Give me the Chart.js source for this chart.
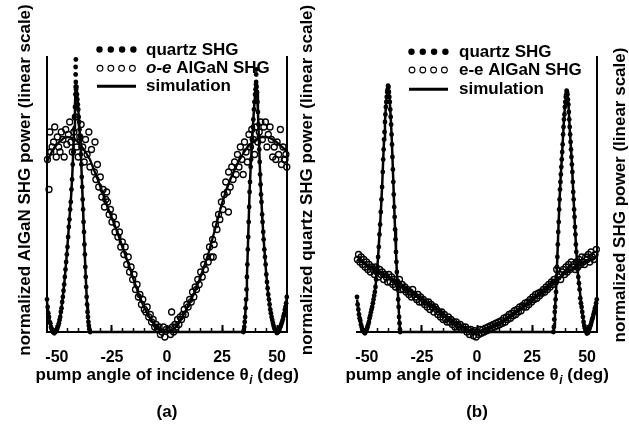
<!DOCTYPE html>
<html>
<head>
<meta charset="utf-8">
<script src="https://cdn.jsdelivr.net/npm/chart.js@4.4.1/dist/chart.umd.min.js"></script>
<style>
  html, body { margin: 0; padding: 0; background: #fff; }
  #wrap { position: relative; width: 629px; height: 426px; }
  canvas { position: absolute; left: 0; top: 0; }
</style>
</head>
<body>
<div id="wrap">
  <canvas id="chartA" width="629" height="426"></canvas>
  <canvas id="chartB" width="629" height="426"></canvas>
</div>
<script>
// axis values
const angleTicks = [-50, -25, 0, 25, 50];
const minorTicks = [-50, -45, -40, -35, -30, -25, -20, -15, -10, -5, 0, 5, 10, 15, 20, 25, 30, 35, 40, 45, 50];
const angleMin = -54.5, angleMax = 54.5;
const powerMin = 0, powerMax = 1.1;

// legend / axis texts
const legendA = [['', 'quartz SHG'], ['o-e', ' AlGaN SHG'], ['', 'simulation']];
const legendB = [['', 'quartz SHG'], ['', 'e-e AlGaN SHG'], ['', 'simulation']];
const yLabelA = 'normalized AlGaN SHG power (linear scale)';
const y2LabelA = 'normalized quartz SHG power (linear scale)';
const y2LabelB = 'normalized SHG power (linear scale)';

// (a) quartz: simulation and measured points  [angle, power]
const quartzA_fit = [
  [-54.5,.12],[-54,.085],[-53.5,.055],[-53,.032],[-52.5,.016],[-52,.006],[-51.5,.001],[-51,0],[-50.5,.002],[-50,.008],
  [-49.5,.02],[-49,.036],[-48.5,.06],[-48,.09],[-47.5,.125],[-47,.165],[-46.5,.21],[-46,.26],[-45.5,.31],[-45,.37],
  [-44.5,.43],[-44,.49],[-43.5,.55],[-43,.63],[-42.6,.72],[-42.2,.82],[-41.8,.91],[-41.4,1.0],[-41.1,.98],[-40.7,.94],
  [-40.3,.89],[-39.9,.84],[-39.5,.78],[-39.1,.71],[-38.7,.62],[-38.3,.53],[-37.9,.44],[-37.5,.35],[-37.1,.26],[-36.7,.18],
  [-36.3,.11],[-35.9,.06],[-35.5,.025],[-35.1,.005],[-34.8,0],
  [34.7,0],[35.1,.02],[35.5,.06],[35.9,.13],[36.3,.22],[36.7,.33],[37.1,.44],[37.5,.56],[38,.66],[38.5,.74],
  [39,.82],[39.5,.89],[40,.95],[40.5,1.0],[40.9,.96],[41.3,.88],[41.7,.78],[42.1,.68],[42.5,.59],[42.9,.52],
  [43.4,.44],[43.9,.37],[44.5,.3],[45,.24],[45.5,.19],[46,.15],[46.5,.115],[47,.085],[47.5,.06],[48,.04],
  [48.5,.022],[49,.01],[49.5,.003],[50,0],[50.5,.003],[51,.01],[51.5,.02],[52,.033],[52.5,.048],[53,.066],
  [53.5,.088],[54,.11],[54.5,.14]
];
const quartzA_data = [
  [-54.5,.13],[-54.2,.10],[-53.9,.075],[-53.6,.06],[-53.3,.04],[-53,.035],[-52.7,.02],[-52.4,.012],[-52.1,.008],[-51.8,0],
  [-51.5,.004],[-51.2,-.005],[-50.9,.003],[-50.6,0],[-50.3,.008],[-50,.01],[-49.7,.018],[-49.4,.025],[-49.1,.035],[-48.8,.048],
  [-48.5,.06],[-48.2,.08],[-47.9,.095],[-47.6,.12],[-47.3,.14],[-47,.165],[-46.7,.19],[-46.4,.22],[-46.1,.25],[-45.8,.28],
  [-45.5,.31],[-45.2,.34],[-44.9,.38],[-44.6,.42],[-44.3,.45],[-44,.49],[-43.7,.52],[-43.4,.57],[-43.1,.61],[-42.8,.67],
  [-42.6,.72],[-42.4,.77],[-42.2,.81],[-42,.86],[-41.8,.9],[-41.6,.95],[-41.5,.98],[-41.4,1.0],[-41.5,1.03],[-41.5,1.06],
  [-41.4,1.09],[-41.3,.97],[-41.1,.98],[-40.9,.95],[-40.7,.93],[-40.5,.91],[-40.3,.89],[-40.1,.86],[-39.9,.84],[-39.7,.81],
  [-39.5,.78],[-39.3,.74],[-39.1,.71],[-38.9,.67],[-38.7,.62],[-38.5,.58],[-38.3,.53],[-38.1,.49],[-37.9,.44],[-37.7,.40],
  [-37.5,.35],[-37.3,.31],[-37.1,.26],[-36.9,.22],[-36.7,.18],[-36.5,.14],[-36.3,.11],[-36.1,.08],[-35.9,.06],[-35.7,.04],
  [-35.5,.025],[-35.3,.012],[-35.1,.005],[-34.9,0],
  [34.7,0],[34.9,.008],[35.1,.02],[35.3,.04],[35.5,.06],[35.7,.095],[35.9,.13],[36.1,.17],[36.3,.22],[36.5,.27],
  [36.7,.33],[36.9,.38],[37.1,.44],[37.3,.50],[37.5,.56],[37.7,.60],[38,.66],[38.2,.69],[38.5,.74],[38.7,.77],
  [39,.82],[39.2,.85],[39.5,.89],[39.7,.92],[40,.95],[40.2,.97],[40.4,.99],[40.5,1.0],[40.5,1.03],[40.5,1.05],
  [40.7,.98],[40.9,.96],[41.1,.92],[41.3,.88],[41.5,.83],[41.7,.78],[41.9,.73],[42.1,.68],[42.3,.63],[42.5,.59],
  [42.7,.55],[42.9,.52],[43.2,.47],[43.4,.44],[43.7,.40],[43.9,.37],[44.2,.33],[44.5,.30],[44.8,.27],[45.1,.23],
  [45.4,.20],[45.7,.175],[46,.15],[46.3,.13],[46.6,.11],[46.9,.09],[47.2,.075],[47.5,.06],[47.8,.048],[48.1,.036],
  [48.4,.025],[48.7,.016],[49,.01],[49.3,.005],[49.6,.002],[49.9,-.004],[50.2,.002],[50.5,0],[50.8,.006],[51.1,.012],
  [51.4,.018],[51.7,.025],[52,.033],[52.3,.04],[52.6,.05],[52.9,.062],[53.2,.072],[53.5,.088],[53.8,.1],[54.1,.115],
  [54.4,.14]
];

// (a) o-e AlGaN: simulation and measured points
const oeA_fit = [
  [-54.5,.68],[-53,.71],[-51,.74],[-49,.76],[-47,.775],[-45,.78],[-43,.775],[-41,.765],[-39,.745],[-37,.72],
  [-35,.69],[-33,.645],[-31,.6],[-29,.55],[-27,.5],[-25,.455],[-23,.41],[-21,.36],[-19,.31],[-17,.26],
  [-15,.205],[-13,.155],[-11,.11],[-9,.075],[-7,.045],[-5,.022],[-3,.007],[-1.5,.001],[0,0],[1.5,.002],
  [3,.01],[5,.03],[7,.06],[9,.095],[11,.13],[13,.17],[15,.215],[17,.265],[19,.32],[21,.385],
  [23,.45],[25,.515],[27,.57],[29,.615],[31,.655],[33,.69],[35,.72],[37,.745],[39,.76],[41,.77],
  [43,.78],[45,.78],[47,.775],[49,.765],[51,.75],[53,.735],[54.5,.72]
];
const oeA_data = [
  [-54.3,.69],[-53.6,.57],[-53.2,.80],[-52.8,.72],[-52.2,.74],[-51.5,.76],[-51,.82],[-50.3,.70],[-49.8,.78],[-49.2,.74],
  [-48.6,.72],[-48,.80],[-47.3,.77],[-46.7,.70],[-46,.81],[-45.5,.75],[-44.8,.79],[-44.2,.84],[-43.6,.76],[-43,.72],
  [-42.3,.80],[-41.6,.86],[-41,.74],[-40.3,.70],[-39.6,.78],[-39,.83],[-38.3,.74],[-37.6,.68],[-37,.77],[-36.3,.71],
  [-35.5,.80],[-35,.66],[-34.3,.73],[-32.7,.76],[-33,.64],[-32.3,.61],[-31.6,.67],[-31,.58],[-30.3,.62],[-29.6,.54],
  [-29,.57],[-28.4,.5],[-27.8,.53],[-27.4,.56],[-27,.52],[-26.3,.47],[-25.7,.49],[-25,.44],[-24.3,.46],[-23.6,.40],
  [-23,.43],[-22.3,.38],[-21.6,.40],[-21,.34],[-20.3,.36],[-19.6,.31],[-19,.34],[-18.3,.27],[-17.6,.30],[-17,.24],
  [-16.3,.26],[-15.6,.21],[-15,.23],[-14.3,.17],[-13.6,.19],[-13,.14],[-12.3,.15],[-11.6,.11],[-11,.13],[-10.3,.09],
  [-9.6,.08],[-9,.10],[-8.3,.06],[-7.6,.07],[-7,.04],[-6.3,.05],[-5.6,.02],[-5,.03],[-4.3,.01],[-3.6,.02],
  [-3,-.01],[-2.3,0],[-1.6,.02],[-1,-.02],[-0.3,.01],[0.4,-.03],[1,.01],[1.6,-.01],[2.1,.08],[2.5,.02],
  [3,0],[3.6,.03],[4.2,.02],[4.8,.05],[5.4,.03],[6,.06],[6.6,.05],[7.2,.07],[7.8,.09],[8.4,.07],
  [9,.11],[9.6,.10],[10.3,.13],[11,.12],[11.6,.16],[12.2,.14],[12.8,.18],[13.4,.17],[14,.21],[14.6,.19],
  [15.3,.24],[16,.22],[16.7,.27],[17.4,.25],[18,.30],[18.7,.28],[19.3,.34],[20,.30],[21,.30],[20.7,.37],
  [21.4,.35],[22,.43],[22.7,.41],[23.4,.47],[24,.45],[24.7,.52],[25.4,.49],[26,.55],[26.7,.60],[27.9,.48],
  [27.4,.56],[28,.64],[28.7,.58],[29.4,.66],[30,.61],[30.7,.68],[31.4,.63],[32,.71],[32.7,.66],[33.3,.74],
  [34,.69],[34.6,.63],[35.2,.76],[35.9,.72],[36.5,.68],[37.2,.79],[37.8,.74],[38.5,.81],[39.2,.77],[39.8,.71],
  [40.5,.82],[41.2,.76],[41.9,.80],[42.6,.84],[43.3,.77],[44,.82],[44.7,.84],[45.4,.74],[46,.79],[46.8,.82],
  [47.4,.77],[48,.70],[48.7,.74],[49.4,.69],[50,.76],[50.7,.71],[51.5,.81],[52,.67],[52.7,.74],[53.3,.69],
  [53.6,.69],[54,.71],[54.4,.66]
];

// (b) quartz: simulation and measured points
const quartzB_fit = [
  [-54.5,.13],[-54,.1],[-53.5,.07],[-53,.045],[-52.5,.025],[-52,.012],[-51.5,.004],[-51,0],[-50.5,.003],[-50,.012],
  [-49.5,.027],[-49,.045],[-48.5,.065],[-48,.085],[-47.5,.105],[-47,.13],[-46.5,.155],[-46,.19],[-45.5,.24],[-45,.29],
  [-44.5,.36],[-44,.43],[-43.5,.51],[-43,.6],[-42.6,.69],[-42.2,.77],[-41.8,.84],[-41.4,.9],[-41,.94],[-40.6,.97],
  [-40.3,.976],[-40,.96],[-39.6,.92],[-39.2,.86],[-38.8,.79],[-38.4,.7],[-38,.6],[-37.6,.5],[-37.2,.41],[-36.8,.32],
  [-36.4,.24],[-36,.17],[-35.6,.1],[-35.3,.045],[-35,.01],[-34.8,0],
  [34.7,0],[35,.03],[35.4,.09],[35.9,.16],[36.4,.28],[37,.42],[37.5,.53],[38,.62],[38.5,.69],[39,.77],
  [39.5,.85],[40,.91],[40.5,.95],[40.8,.96],[41.2,.94],[41.6,.9],[42,.83],[42.5,.76],[43,.69],[43.5,.6],
  [44,.51],[44.5,.42],[45,.34],[45.5,.27],[46,.22],[46.5,.18],[47,.14],[47.5,.1],[48,.065],[48.5,.035],
  [49,.015],[49.5,.004],[50,0],[50.5,.004],[51,.012],[51.5,.025],[52,.04],[52.5,.056],[53,.074],[53.5,.093],
  [54,.112],[54.5,.13]
];
const quartzB_data = [
  [-54.5,.14],[-54.2,.11],[-53.9,.09],[-53.6,.07],[-53.3,.055],[-53,.045],[-52.7,.03],[-52.4,.02],[-52.1,.01],[-51.8,.006],
  [-51.5,0],[-51.2,.004],[-50.9,-.005],[-50.6,.002],[-50.3,.008],[-50,.012],[-49.7,.02],[-49.4,.03],[-49.1,.04],[-48.8,.055],
  [-48.5,.065],[-48.2,.078],[-47.9,.09],[-47.6,.1],[-47.3,.115],[-47,.13],[-46.7,.145],[-46.4,.16],[-46.1,.18],[-45.8,.21],
  [-45.5,.24],[-45.2,.26],[-44.9,.3],[-44.6,.34],[-44.3,.39],[-44,.43],[-43.7,.48],[-43.4,.53],[-43.1,.58],[-42.8,.64],
  [-42.6,.69],[-42.4,.73],[-42.2,.77],[-42,.8],[-41.8,.84],[-41.6,.87],[-41.4,.9],[-41.2,.92],[-41,.94],[-40.8,.96],
  [-40.6,.97],[-40.4,.985],[-40.2,.98],[-40,.96],[-39.8,.94],[-39.6,.92],[-39.4,.89],[-39.2,.86],[-39,.83],[-38.8,.79],
  [-38.6,.75],[-38.4,.7],[-38.2,.65],[-38,.6],[-37.8,.55],[-37.6,.5],[-37.4,.46],[-37.2,.41],[-37,.37],[-36.8,.32],
  [-36.6,.28],[-36.4,.24],[-36.2,.2],[-36,.17],[-35.8,.13],[-35.6,.1],[-35.4,.06],[-35.2,.035],[-35,.01],[-34.9,0],
  [34.7,0],[34.9,.02],[35.1,.05],[35.3,.08],[35.5,.1],[35.7,.13],[35.9,.16],[36.1,.2],[36.3,.26],[36.5,.3],
  [36.7,.35],[36.9,.4],[37.1,.44],[37.3,.49],[37.5,.53],[37.7,.57],[37.9,.6],[38.1,.63],[38.3,.66],[38.5,.69],
  [38.7,.72],[38.9,.75],[39.1,.79],[39.3,.82],[39.5,.85],[39.7,.87],[39.9,.9],[40.1,.92],[40.3,.94],[40.5,.95],
  [40.7,.965],[40.9,.96],[41.1,.95],[41.3,.93],[41.5,.91],[41.7,.88],[41.9,.85],[42.1,.82],[42.3,.79],[42.5,.76],
  [42.7,.73],[42.9,.7],[43.1,.67],[43.3,.64],[43.5,.6],[43.7,.56],[43.9,.53],[44.1,.49],[44.3,.46],[44.5,.42],
  [44.7,.39],[44.9,.35],[45.1,.32],[45.4,.28],[45.7,.25],[46,.22],[46.3,.195],[46.6,.17],[46.9,.135],[47.2,.115],
  [47.5,.1],[47.8,.08],[48.1,.06],[48.4,.04],[48.7,.025],[49,.015],[49.3,.008],[49.6,.002],[49.9,-.006],[50.2,.003],
  [50.5,-.003],[50.8,.008],[51.1,.014],[51.4,.022],[51.7,.03],[52,.04],[52.3,.05],[52.6,.058],[52.9,.07],[53.2,.08],
  [53.5,.093],[53.8,.1],[54.1,.115],[54.4,.13]
];

// (b) e-e AlGaN: simulation and measured points
const eeB_fit = [
  [-54.5,.29],[-50,.27],[-45,.245],[-40,.22],[-35,.195],[-30,.165],[-25,.135],[-20,.105],[-15,.072],[-10,.04],
  [-5,.014],[0,0],[5,.01],[10,.03],[15,.06],[20,.095],[25,.13],[30,.165],[35,.2],[40,.235],
  [45,.26],[50,.283],[54.5,.3]
];
const eeB_data = [
  [-54.3,.29],[-53.8,.31],[-53.2,.28],[-52.6,.30],[-52,.27],[-51.4,.29],[-50.8,.26],[-50.2,.28],[-49.6,.25],[-49,.27],
  [-48.4,.24],[-47.8,.26],[-47.2,.25],[-46.6,.23],[-46,.26],[-45.4,.24],[-44.8,.22],[-44.2,.25],[-43.6,.23],[-43,.24],
  [-42.4,.21],[-41.8,.23],[-41.2,.22],[-40.6,.20],[-40,.23],[-39.4,.20],[-38.8,.22],[-38.2,.19],[-37.6,.21],[-37,.18],
  [-36.4,.20],[-35.8,.19],[-35.2,.21],[-34.6,.17],[-34,.19],[-33.4,.17],[-32.8,.18],[-32.2,.16],[-31.6,.17],[-31,.15],
  [-30.4,.16],[-29.8,.14],[-29.2,.17],[-28.6,.15],[-28,.14],[-27.4,.13],[-26.8,.15],[-26.2,.12],[-25.6,.14],[-25,.12],
  [-24.4,.13],[-23.8,.11],[-23.2,.12],[-22.6,.10],[-22,.12],[-21.4,.09],[-20.8,.11],[-20.2,.10],[-19.6,.08],[-19,.10],
  [-18.4,.09],[-17.8,.07],[-17.2,.08],[-16.6,.06],[-16,.08],[-15.4,.05],[-14.8,.07],[-14.2,.05],[-13.6,.04],[-13,.06],
  [-12.4,.04],[-11.8,.05],[-11.2,.03],[-10.6,.04],[-10,.02],[-9.4,.04],[-8.8,.03],[-8.2,.02],[-7.6,.03],[-7,.01],
  [-6.4,.02],[-5.8,.01],[-5.2,.02],[-4.6,0],[-4,.01],[-3.4,-.01],[-2.8,.01],[-2.2,0],[-1.6,-.015],[-1,.005],
  [-0.4,-.02],[0.2,0],[0.8,-.01],[1.4,.01],[2,-.005],[2.6,.01],[3.2,0],[3.8,.015],[4.4,.005],[5,.02],
  [5.6,.01],[6.2,.025],[6.8,.015],[7.4,.03],[8,.02],[8.6,.035],[9.2,.025],[9.8,.04],[10.4,.03],[11,.045],
  [11.6,.035],[12.2,.055],[12.8,.04],[13.4,.06],[14,.05],[14.6,.07],[15.2,.055],[15.8,.075],[16.4,.065],[17,.085],
  [17.6,.07],[18.2,.09],[18.8,.08],[19.4,.10],[20,.085],[20.6,.105],[21.2,.10],[21.8,.115],[22.4,.10],[23,.12],
  [23.6,.11],[24.2,.13],[24.8,.12],[25.4,.14],[26,.13],[26.6,.15],[27.2,.135],[27.8,.155],[28.4,.145],[29,.16],
  [29.6,.155],[30.2,.17],[30.8,.16],[31.4,.18],[32,.17],[32.6,.19],[33.2,.18],[33.8,.20],[34.4,.19],[35,.21],
  [35.6,.20],[36.2,.25],[36.8,.22],[37.4,.23],[38,.21],[38.6,.24],[39.2,.25],[39.8,.23],[40.4,.26],[41,.24],
  [41.6,.27],[42.2,.25],[42.8,.28],[43.4,.26],[44,.27],[44.6,.25],[45.2,.28],[45.8,.26],[46.4,.29],[47,.27],
  [47.6,.30],[48.2,.28],[48.8,.27],[49.4,.30],[50,.29],[50.6,.31],[51.2,.28],[51.8,.32],[52.4,.30],[53,.29],
  [53.6,.31],[54.2,.33]
];

const FAMILY = '"Liberation Sans", Arial, Helvetica, sans-serif';

function toPoints(arr) {
  return arr.map(p => ({ x: p[0], y: p[1] }));
}

// draws rotated axis labels, x title with subscript, panel tag and the legend
const panelText = {
  id: 'panelText',
  afterDraw(chart, args, o) {
    const ctx = chart.ctx;
    const area = chart.chartArea;
    const cx = (area.left + area.right) / 2;
    ctx.save();
    ctx.fillStyle = '#000';
    ctx.strokeStyle = '#000';

    // x axis title: pump angle of incidence θi (deg)
    const t1 = 'pump angle of incidence \u03b8', sub = 'i', t2 = ' (deg)';
    ctx.font = 'bold 17px ' + FAMILY;
    const w1 = ctx.measureText(t1).width, w3 = ctx.measureText(t2).width;
    ctx.font = 'italic bold 12px ' + FAMILY;
    const ws = ctx.measureText(sub).width;
    let x = cx - (w1 + ws + w3) / 2;
    ctx.textAlign = 'left';
    ctx.textBaseline = 'alphabetic';
    ctx.font = 'bold 17px ' + FAMILY;
    ctx.fillText(t1, x, o.titleY);
    ctx.font = 'italic bold 12px ' + FAMILY;
    ctx.fillText(sub, x + w1 + 0.5, o.titleY + 4);
    ctx.font = 'bold 17px ' + FAMILY;
    ctx.fillText(t2, x + w1 + ws + 0.5, o.titleY);

    // panel tag
    ctx.textAlign = 'center';
    ctx.textBaseline = 'middle';
    ctx.fillText(o.tag, cx, o.tagY);

    // rotated labels, reading upwards
    o.yLabels.forEach(l => {
      ctx.save();
      ctx.translate(l.x, l.y);
      ctx.rotate(-Math.PI / 2);
      ctx.font = 'bold 17px ' + FAMILY;
      ctx.textAlign = 'center';
      ctx.textBaseline = 'middle';
      ctx.fillText(l.text, 0, 0);
      ctx.restore();
    });

    // legend
    const lg = o.legend;
    const rows = lg.rows;
    for (let i = 0; i < 4; i++) {
      ctx.beginPath();
      ctx.arc(lg.x + 2.5 + i * 11.3, rows[0], 3.2, 0, Math.PI * 2);
      ctx.fill();
    }
    ctx.lineWidth = 1.1;
    for (let i = 0; i < 4; i++) {
      ctx.beginPath();
      ctx.arc(lg.x + 3 + i * 10.8, rows[1], 2.9, 0, Math.PI * 2);
      ctx.stroke();
    }
    ctx.lineWidth = 3;
    ctx.beginPath();
    ctx.moveTo(lg.x, rows[2]);
    ctx.lineTo(lg.x + 39, rows[2]);
    ctx.stroke();
    ctx.textAlign = 'left';
    ctx.textBaseline = 'middle';
    lg.names.forEach((n, i) => {
      let tx = lg.textX;
      if (n[0]) {
        ctx.font = 'italic bold 17px ' + FAMILY;
        ctx.fillText(n[0], tx, rows[i] + 0.5);
        tx += ctx.measureText(n[0]).width;
      }
      ctx.font = 'bold 17px ' + FAMILY;
      ctx.fillText(n[1], tx, rows[i] + 0.5);
    });
    ctx.restore();
  }
};

function makePanel(canvasId, p) {
  const datasets = [
    { data: toPoints(p.quartzFit), showLine: true, borderColor: '#000', borderWidth: 2.5, pointRadius: 0, clip: false },
    { data: toPoints(p.quartzData), pointRadius: 2.4, pointBackgroundColor: '#000', pointBorderWidth: 0, clip: false },
    { data: toPoints(p.algaFit), showLine: true, borderColor: '#000', borderWidth: 2.3, pointRadius: 0, clip: false },
    { data: toPoints(p.algaData), pointRadius: 3, pointBackgroundColor: 'rgba(0,0,0,0)', pointBorderColor: '#000', pointBorderWidth: 1.3, clip: false }
  ];

  return new Chart(document.getElementById(canvasId), {
    type: 'scatter',
    data: { datasets: datasets },
    options: {
      responsive: false,
      animation: false,
      devicePixelRatio: 1,
      layout: { padding: p.padding },
      plugins: {
        legend: { display: false },
        tooltip: { enabled: false },
        panelText: {
          titleY: 380,
          tag: p.tag,
          tagY: 412,
          yLabels: p.yLabels,
          legend: p.legend
        }
      },
      scales: {
        xMinor: {
          type: 'linear',
          position: 'bottom',
          weight: -1,
          min: angleMin,
          max: angleMax,
          afterBuildTicks: s => { s.ticks = minorTicks.map(v => ({ value: v })); },
          afterFit: s => { s.height = 0; },
          ticks: { display: false },
          grid: { drawOnChartArea: false, tickLength: -4, tickWidth: 1.5, tickColor: '#000' },
          border: { display: false }
        },
        x: {
          type: 'linear',
          position: 'bottom',
          weight: 1,
          min: angleMin,
          max: angleMax,
          afterBuildTicks: s => { s.ticks = angleTicks.map(v => ({ value: v })); },
          afterFit: s => { s.height = 40; },
          ticks: {
            color: '#000',
            padding: 23,
            maxRotation: 0,
            autoSkip: false,
            font: { family: FAMILY, size: 16, weight: 'bold' },
            callback: v => String(v)
          },
          grid: { drawOnChartArea: false, tickLength: -7, tickWidth: 2, tickColor: '#000' },
          border: { display: true, width: 2, color: '#000' }
        },
        y: {
          position: 'left',
          display: p.leftAxis,
          min: powerMin,
          max: powerMax,
          afterFit: s => { s.width = 0; },
          ticks: { display: false },
          grid: { drawOnChartArea: false, drawTicks: false },
          border: { display: true, width: 2, color: '#000' }
        },
        y2: {
          position: 'right',
          min: powerMin,
          max: powerMax,
          afterFit: s => { s.width = 0; },
          ticks: { display: false },
          grid: { drawOnChartArea: false, drawTicks: false },
          border: { display: true, width: 2, color: '#000' }
        }
      }
    },
    plugins: [panelText]
  });
}

makePanel('chartA', {
  quartzFit: quartzA_fit, quartzData: quartzA_data,
  algaFit: oeA_fit, algaData: oeA_data,
  leftAxis: true,
  tag: '(a)',
  padding: { left: 47, right: 342, top: 57, bottom: 54 },
  yLabels: [
    { text: yLabelA, x: 25, y: 180 },
    { text: y2LabelA, x: 307, y: 180 }
  ],
  legend: { x: 97, textX: 146, rows: [49.5, 68.3, 86.3], names: legendA }
});

makePanel('chartB', {
  quartzFit: quartzB_fit, quartzData: quartzB_data,
  algaFit: eeB_fit, algaData: eeB_data,
  leftAxis: false,
  tag: '(b)',
  padding: { left: 357, right: 32, top: 57, bottom: 54 },
  yLabels: [
    { text: y2LabelB, x: 620, y: 195 }
  ],
  legend: { x: 409, textX: 459, rows: [51.7, 70, 89.3], names: legendB }
});
</script>
</body>
</html>
